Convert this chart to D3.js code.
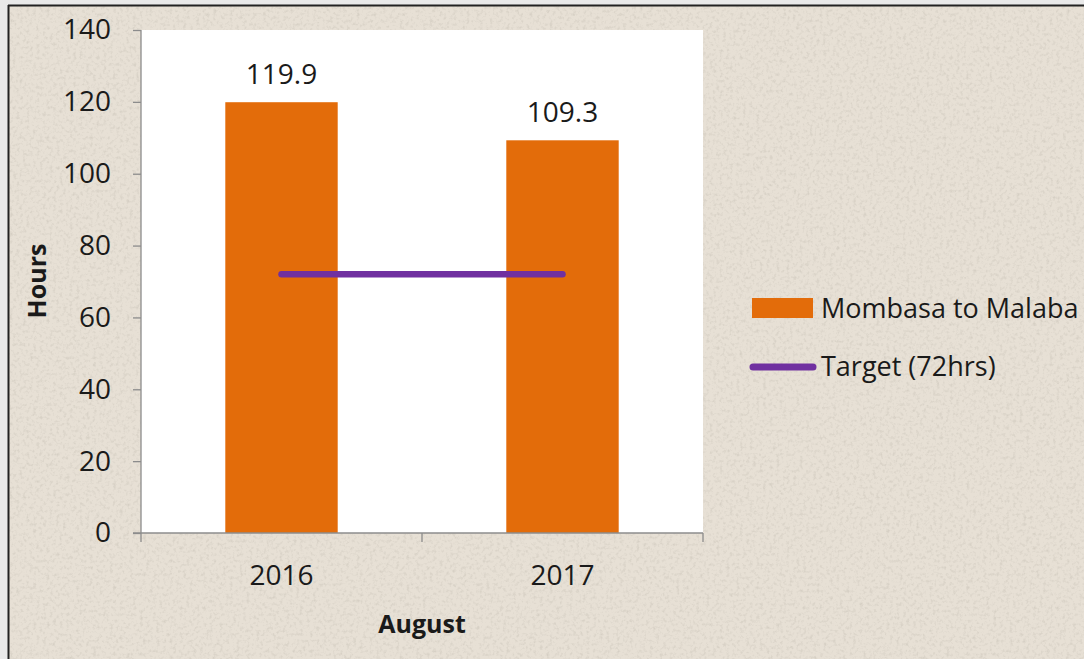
<!DOCTYPE html>
<html>
<head>
<meta charset="utf-8">
<script src="https://cdn.jsdelivr.net/npm/d3@7"></script>
<style>
  body { margin: 0; background: #e9e9e9; }
  svg { display: block; }
  text { font-family: "Open Sans", "Liberation Sans", sans-serif; fill: #1a1a1a; }
</style>
</head>
<body>
<script>
// chart values
var years = ["2016", "2017"]
var hours = [119.9, 109.3]
var target = [72, 72]
var yTicks = [0, 20, 40, 60, 80, 100, 120, 140]
var legendNames = ["Mombasa to Malaba", "Target (72hrs)"]

var W = 1084, H = 659
var plot = {left: 141, right: 703, top: 30, bottom: 533}

var svg = d3.select("body").append("svg")
    .attr("width", W)
    .attr("height", H)

// background texture
var defs = svg.append("defs")
var filt = defs.append("filter").attr("id", "grain")
    .attr("x", 0).attr("y", 0).attr("width", "100%").attr("height", "100%")
filt.append("feTurbulence")
    .attr("type", "fractalNoise")
    .attr("baseFrequency", 0.3)
    .attr("numOctaves", 3)
    .attr("seed", 4)
filt.append("feColorMatrix")
    .attr("type", "matrix")
    .attr("values", "0 0 0 0 0.45  0 0 0 0 0.42  0 0 0 0 0.36  0 0 0 -2.6 1.35")

svg.append("rect")
    .attr("x", 8).attr("y", 5)
    .attr("width", W - 8).attr("height", H - 5)
    .attr("fill", "#e7e0d5")
svg.append("rect")
    .attr("x", 8).attr("y", 5)
    .attr("width", W - 8).attr("height", H - 5)
    .attr("filter", "url(#grain)")
    .attr("opacity", 0.3)

// frame lines top and left
svg.append("line").attr("x1", 8).attr("x2", W).attr("y1", 5.5).attr("y2", 5.5)
    .attr("stroke", "#222").attr("stroke-width", 2)
svg.append("line").attr("x1", 8.5).attr("x2", 8.5).attr("y1", 5).attr("y2", H)
    .attr("stroke", "#222").attr("stroke-width", 2)

// white plot area
svg.append("rect")
    .attr("x", plot.left).attr("y", plot.top)
    .attr("width", plot.right - plot.left)
    .attr("height", plot.bottom - plot.top)
    .attr("fill", "#ffffff")

var xscale = d3.scaleBand()
    .domain(years)
    .range([plot.left, plot.right])
    .paddingInner(0.6)
    .paddingOuter(0.3)

var yscale = d3.scaleLinear()
    .domain([0, 140])
    .range([plot.bottom, plot.top])

// bars
svg.selectAll("rect.bar")
    .data(hours)
    .enter()
    .append("rect")
    .attr("class", "bar")
    .attr("x", function (d, i) { return xscale(years[i]) })
    .attr("y", function (d) { return yscale(d) })
    .attr("width", xscale.bandwidth())
    .attr("height", function (d) { return yscale(0) - yscale(d) })
    .attr("fill", "#e36c0a")

// value labels
svg.selectAll("text.val")
    .data(hours)
    .enter()
    .append("text")
    .attr("class", "val")
    .attr("x", function (d, i) { return xscale(years[i]) + xscale.bandwidth() / 2 })
    .attr("y", function (d) { return yscale(d) - 18 })
    .attr("text-anchor", "middle")
    .style("font-size", "28px")
    .text(function (d) { return d.toFixed(1) })

// target line
var line = d3.line()
    .x(function (d, i) { return xscale(years[i]) + xscale.bandwidth() / 2 })
    .y(function (d) { return yscale(d) })
svg.append("path")
    .datum(target)
    .attr("d", line)
    .attr("fill", "none")
    .attr("stroke", "#7030a0")
    .attr("stroke-width", 6.5)
    .attr("stroke-linecap", "round")

// y axis
var yaxis = svg.append("g")
    .attr("transform", "translate(" + plot.left + ",0)")
    .call(d3.axisLeft(yscale).tickValues(yTicks).tickSize(8).tickPadding(22))
yaxis.selectAll("path, line").attr("stroke", "#8c8c8c").attr("stroke-width", 1.3)
yaxis.selectAll("text").style("font-size", "28px").attr("fill", "#1a1a1a")
    .attr("font-family", null)
yaxis.select(".domain").attr("d", "M0," + plot.top + "V" + plot.bottom)

// x axis: ticks at band edges
var xaxis = svg.append("g")
    .attr("transform", "translate(0," + plot.bottom + ")")
xaxis.append("line")
    .attr("x1", plot.left - 8).attr("x2", plot.right)
    .attr("stroke", "#8c8c8c").attr("stroke-width", 1.3)
var edges = [plot.left].concat(years.map(function (y) { return xscale(y) + xscale.step() * 0.3 + xscale.bandwidth() }))
xaxis.selectAll("line.tk")
    .data(edges)
    .enter()
    .append("line")
    .attr("class", "tk")
    .attr("x1", function (d) { return d }).attr("x2", function (d) { return d })
    .attr("y1", 0).attr("y2", 9)
    .attr("stroke", "#8c8c8c").attr("stroke-width", 1.3)
xaxis.selectAll("text.yr")
    .data(years)
    .enter()
    .append("text")
    .attr("class", "yr")
    .attr("x", function (d) { return xscale(d) + xscale.bandwidth() / 2 })
    .attr("y", 52)
    .attr("text-anchor", "middle")
    .style("font-size", "28px")
    .text(function (d) { return d })

// axis titles
svg.append("text")
    .attr("transform", "translate(46,281) rotate(-90)")
    .attr("text-anchor", "middle")
    .style("font-size", "25px")
    .style("font-weight", "bold")
    .text("Hours")
svg.append("text")
    .attr("x", (plot.left + plot.right) / 2)
    .attr("y", 633)
    .attr("text-anchor", "middle")
    .style("font-size", "25px")
    .style("font-weight", "bold")
    .text("August")

// legend
var leg = svg.append("g")
leg.append("rect")
    .attr("x", 752).attr("y", 298)
    .attr("width", 61).attr("height", 20)
    .attr("fill", "#e36c0a")
leg.append("line")
    .attr("x1", 753).attr("x2", 813)
    .attr("y1", 367).attr("y2", 367)
    .attr("stroke", "#7030a0").attr("stroke-width", 7)
    .attr("stroke-linecap", "round")
leg.selectAll("text")
    .data(legendNames)
    .enter()
    .append("text")
    .attr("x", 821)
    .attr("y", function (d, i) { return 318 + i * 58 })
    .style("font-size", "27px")
    .text(function (d) { return d })
</script>
</body>
</html>
